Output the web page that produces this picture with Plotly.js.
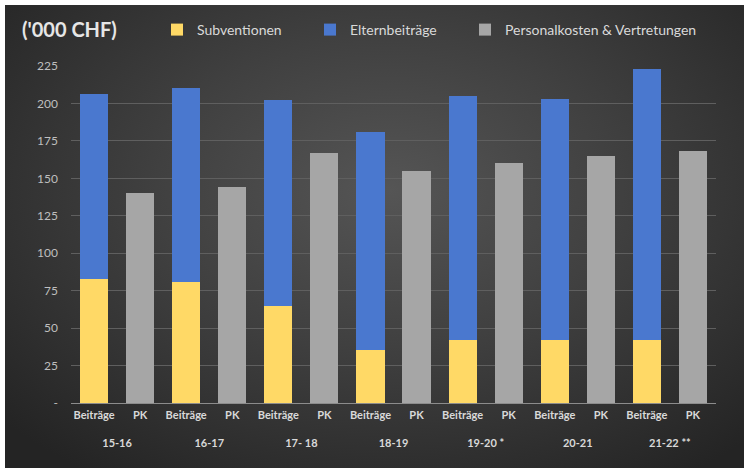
<!DOCTYPE html>
<html>
<head>
<meta charset="utf-8">
<script src="https://cdn.plot.ly/plotly-3.0.1.min.js"></script>
<style>
  html, body { margin: 0; padding: 0; background: #ffffff; }
  #wrap { position: relative; width: 751px; height: 468px; background: #ffffff; overflow: hidden; }
  #bg { position: absolute; left: 5px; top: 5px; width: 739px; height: 463px;
        background: radial-gradient(ellipse 70% 75% at 52% 40%, #555555 0%, #404040 45%, #242424 100%); }
  #chart { position: absolute; left: 0; top: 0; width: 751px; height: 468px; }
</style>
</head>
<body>
<div id="wrap"><div id="bg"></div><div id="chart"></div></div>
<script>
// ---- data ----
const years = ["15-16", "16-17", "17- 18", "18-19", "19-20 *", "20-21", "21-22 **"];
const beitragLabel = "Beiträge";
const pkLabel = "PK";
const subventionen = [83, 80.5, 65, 35.5, 42, 42, 42];
const elternbeitraege = [123, 129.5, 137, 145.5, 163, 161, 181];
const personalkosten = [140, 144, 167, 155, 160, 165, 168];
const yTickVals = [0, 25, 50, 75, 100, 125, 150, 175, 200, 225];
const yTickText = ["-", "25", "50", "75", "100", "125", "150", "175", "200", "225"];

// outer (year) labels are pushed one line lower, as in the reference
const yearLabels = years.map(y => "<br>" + y);
const xBeitrag = [yearLabels, years.map(() => beitragLabel)];
const xPK = [yearLabels, years.map(() => pkLabel)];

const fontFam = "Lato, 'Open Sans', sans-serif";
const legendFont = { family: fontFam, size: 14, color: "#d9d9d9" };

const traces = [
  { type: "bar", name: "Subventionen", x: xBeitrag, y: subventionen,
    marker: { color: "#ffd966" }, legend: "legend" },
  { type: "bar", name: "Elternbeiträge", x: xBeitrag, y: elternbeitraege,
    marker: { color: "#4a78cf" }, legend: "legend2" },
  { type: "bar", name: "Personalkosten &amp; Vertretungen", x: xPK, y: personalkosten,
    marker: { color: "#a6a6a6" }, legend: "legend3" }
];

function legendAt(px) {
  return { orientation: "h", xref: "container", yref: "container",
           x: px / 751, xanchor: "left", y: 1 - 30 / 468, yanchor: "middle",
           font: legendFont, itemwidth: 30, bgcolor: "rgba(0,0,0,0)" };
}

const layout = {
  width: 751, height: 468,
  paper_bgcolor: "rgba(0,0,0,0)",
  plot_bgcolor: "rgba(0,0,0,0)",
  margin: { l: 71, r: 35, t: 66, b: 65 },
  barmode: "stack",
  bargap: 0.39,
  font: { family: fontFam, color: "#d9d9d9" },
  title: { text: "<b>('000 CHF)</b>", font: { family: fontFam, size: 20, color: "#e6e6e6" },
           xref: "container", x: 22 / 751, xanchor: "left",
           yref: "container", y: 1 - 30 / 468, yanchor: "middle" },
  showlegend: true,
  legend: legendAt(157),
  legend2: legendAt(310),
  legend3: legendAt(465),
  xaxis: { type: "multicategory", showdividers: false, showgrid: false,
           showline: true, linecolor: "#8c8c8c", linewidth: 1, ticks: "",
           ticklabelstandoff: 2,
           tickfont: { family: fontFam, size: 11, color: "#d9d9d9", weight: "bold" } },
  yaxis: { range: [0, 225], tickvals: yTickVals, ticktext: yTickText,
           showgrid: true, gridcolor: "#5f5f5f", gridwidth: 1, zeroline: false,
           ticks: "", ticklabelstandoff: 12,
           tickfont: { family: fontFam, size: 12, color: "#bfbfbf" } }
};

Plotly.newPlot("chart", traces, layout, { staticPlot: true, displayModeBar: false });
</script>
</body>
</html>
